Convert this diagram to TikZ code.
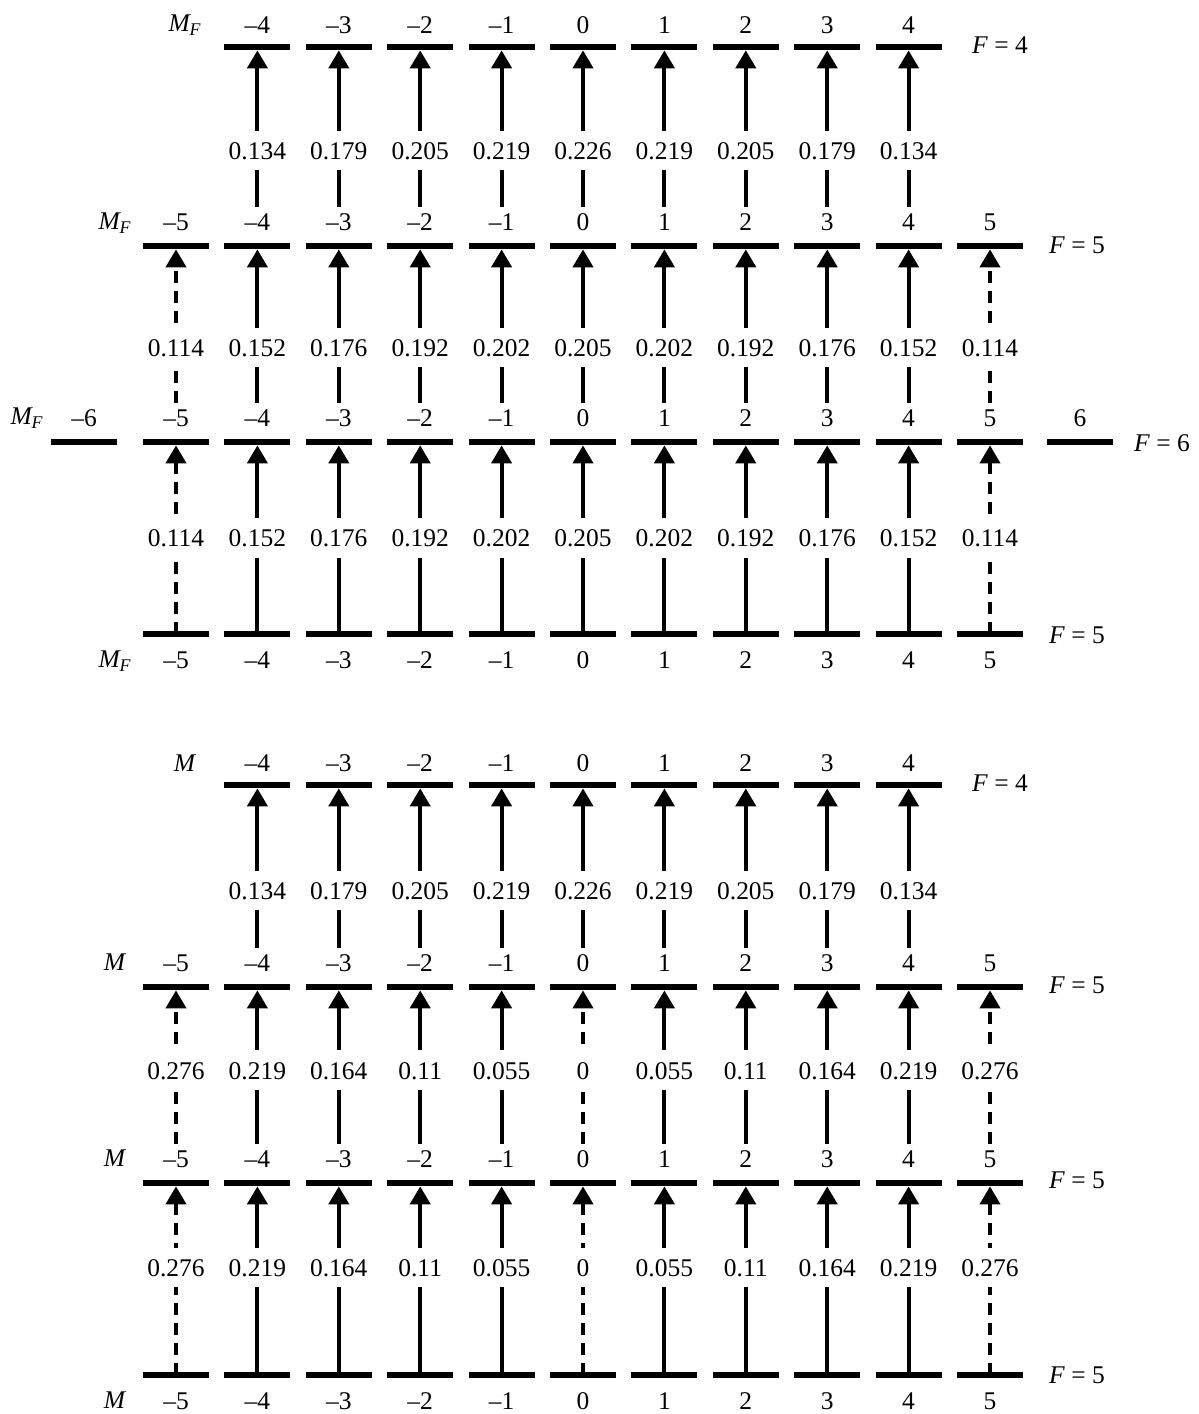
\documentclass[tikz,border=0pt]{standalone}
\usepackage{fontspec}
\setmainfont{Liberation Serif}
\usetikzlibrary{arrows.meta}
\newcommand{\mval}[1]{\ifnum#1<0 \textendash\number-#1\else#1\fi}

\begin{document}
\begin{tikzpicture}[x=0.02cm,y=-0.02cm,font=\fontsize{14.5}{17}\selectfont,
  declare function={cx(\k)=583+81.4*(\k-6);},
  lvl/.style={fill=black,minimum width=1.32cm,minimum height=0.12cm,inner sep=0pt},
  mlab/.style={text height=10pt,text depth=0pt},
  tr/.style={line width=0.08cm,-{Triangle[width=0.4cm,length=0.36cm]}},
  sld/.style={tr},
  dsh/.style={tr,dash pattern=on 0.24cm off 0.16cm},
  val/.style={fill=white,inner xsep=0pt,inner ysep=0.22cm,text height=10pt,text depth=0pt}]
\useasboundingbox (0,0) rectangle (1199,1414);

% levels of both panels
\foreach \p/\ya/\yb/\yc/\yd in {u/47/246/442/634,l/785/987/1183/1375}{
  \foreach \k in {2,...,10}{
    \pgfmathtruncatemacro\m{\k-6}
    \node[lvl] (\p A\k) at ({cx(\k)},\ya) {};
    \node[mlab] (\p At\k) at ({cx(\k)},\ya-22) {\mval{\m}};
  }
  \foreach \k in {1,...,11}{
    \pgfmathtruncatemacro\m{\k-6}
    \node[lvl] (\p B\k) at ({cx(\k)},\yb) {};
    \node[mlab] (\p Bt\k) at ({cx(\k)},\yb-24) {\mval{\m}};
    \node[lvl] (\p C\k) at ({cx(\k)},\yc) {};
    \node[mlab] (\p Ct\k) at ({cx(\k)},\yc-24) {\mval{\m}};
    \node[lvl] (\p D\k) at ({cx(\k)},\yd) {};
    \node[mlab] (\p Dt\k) at ({cx(\k)},\yd+26) {\mval{\m}};
  }
}
\node[lvl] (uC0) at (84,442) {};
\node[mlab] (uCt0) at (84,418) {\textendash6};
\node[lvl] (uC12) at (1080,442) {};
\node[mlab] (uCt12) at (1080,418) {6};

% upper panel
\foreach \k/\v in {2/0.134,3/0.179,4/0.205,5/0.219,6/0.226,7/0.219,8/0.205,9/0.179,10/0.134}
  \draw[sld] (uBt\k.north) -- node[val,pos=0.36] (uAB\k) {\v} (uA\k.south);
\foreach \k/\v/\s in {1/0.114/dsh,2/0.152/sld,3/0.176/sld,4/0.192/sld,5/0.202/sld,6/0.205/sld,
    7/0.202/sld,8/0.192/sld,9/0.176/sld,10/0.152/sld,11/0.114/dsh}{
  \draw[\s] (uCt\k.north) -- node[val,pos=0.36] (uBC\k) {\v} (uB\k.south);
  \draw[\s] (uD\k.center) -- node[val,pos=0.51] (uCD\k) {\v} (uC\k.south);
}

% lower panel
\foreach \k/\v in {2/0.134,3/0.179,4/0.205,5/0.219,6/0.226,7/0.219,8/0.205,9/0.179,10/0.134}
  \draw[sld] (lBt\k.north) -- node[val,pos=0.36] (lAB\k) {\v} (lA\k.south);
\foreach \k/\v/\s in {1/0.276/dsh,2/0.219/sld,3/0.164/sld,4/0.11/sld,5/0.055/sld,6/0/dsh,
    7/0.055/sld,8/0.11/sld,9/0.164/sld,10/0.219/sld,11/0.276/dsh}{
  \draw[\s] (lCt\k.north) -- node[val,pos=0.48] (lBC\k) {\v} (lB\k.south);
  \draw[\s] (lD\k.center) -- node[val,pos=0.57] (lCD\k) {\v} (lC\k.south);
}

% quantum numbers
\node (uMA) at (185,25) {\textit{M\textsubscript{F}}};
\node (uMB) at (115,223) {\textit{M\textsubscript{F}}};
\node (uMC) at (27,418) {\textit{M\textsubscript{F}}};
\node (uMD) at (115,661) {\textit{M\textsubscript{F}}};
\node (lMA) at (185,763) {\textit{M}};
\node (lMB) at (115,962) {\textit{M}};
\node (lMC) at (115,1158) {\textit{M}};
\node (lMD) at (115,1400) {\textit{M}};
\node (uFA) at (1000,45) {\textit{F} = 4};
\node (uFB) at (1077,245) {\textit{F} = 5};
\node (uFC) at (1162,443) {\textit{F} = 6};
\node (uFD) at (1077,635) {\textit{F} = 5};
\node (lFA) at (1000,783) {\textit{F} = 4};
\node (lFB) at (1077,985) {\textit{F} = 5};
\node (lFC) at (1077,1180) {\textit{F} = 5};
\node (lFD) at (1077,1375) {\textit{F} = 5};
\end{tikzpicture}
\end{document}
